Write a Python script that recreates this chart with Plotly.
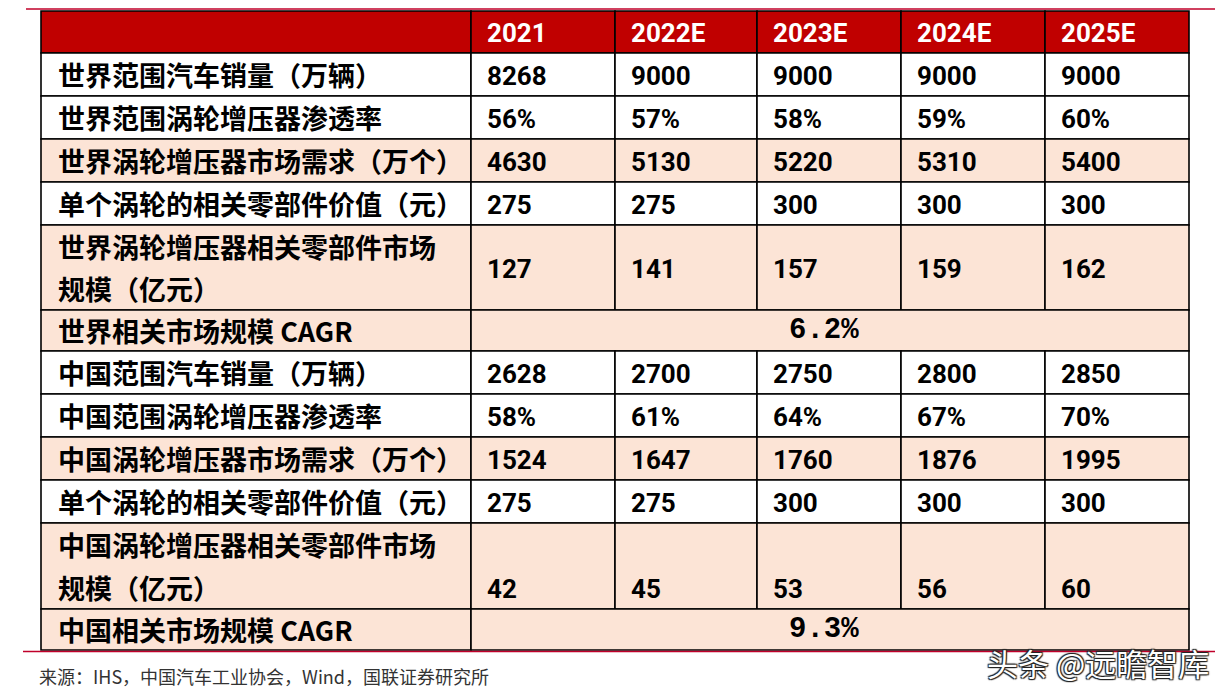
import plotly.graph_objects as go

years = ["2021", "2022E", "2023E", "2024E", "2025E"]

row_labels = [
    "世界范围汽车销量（万辆）",
    "世界范围涡轮增压器渗透率",
    "世界涡轮增压器市场需求（万个）",
    "单个涡轮的相关零部件价值（元）",
    "世界涡轮增压器相关零部件市场\n规模（亿元）",
    "世界相关市场规模 CAGR",
    "中国范围汽车销量（万辆）",
    "中国范围涡轮增压器渗透率",
    "中国涡轮增压器市场需求（万个）",
    "单个涡轮的相关零部件价值（元）",
    "中国涡轮增压器相关零部件市场\n规模（亿元）",
    "中国相关市场规模 CAGR",
]

world_sales = [8268, 9000, 9000, 9000, 9000]
world_penetration = ["56%", "57%", "58%", "59%", "60%"]
world_demand = [4630, 5130, 5220, 5310, 5400]
world_part_value = [275, 275, 300, 300, 300]
world_market = [127, 141, 157, 159, 162]
world_cagr = "6.2%"

china_sales = [2628, 2700, 2750, 2800, 2850]
china_penetration = ["58%", "61%", "64%", "67%", "70%"]
china_demand = [1524, 1647, 1760, 1876, 1995]
china_part_value = [275, 275, 300, 300, 300]
china_market = [42, 45, 53, 56, 60]
china_cagr = "9.3%"

source = "来源：IHS，中国汽车工业协会，Wind，国联证券研究所"
watermark = "头条 @远瞻智库"

row_values = [world_sales, world_penetration, world_demand, world_part_value,
              world_market, world_cagr,
              china_sales, china_penetration, china_demand, china_part_value,
              china_market, china_cagr]

# layout / style (screen pixels)
col_edges = [41, 471, 615, 757, 901, 1045, 1189]
top = 11
header_h = 42
row_heights = [43, 43, 43, 43, 85, 41, 43, 43, 43, 43, 86, 41]
shaded = [False, False, True, False, True, True, False, False, True, False, True, True]
value_valign = ["middle"] * 10 + ["bottom", "middle"]

RED = "#C00000"
PEACH = "#FCE4D6"
CJK = "Noto Sans CJK SC"
NUM = "Liberation Sans Narrow, Roboto, sans-serif"
OFF = 8  # page body margin

shapes = []
annotations = []

def cell(x0, x1, y0, y1, fill):
    shapes.append(dict(type="rect", xref="x", yref="y", x0=x0, x1=x1, y0=y0, y1=y1,
                       fillcolor=fill, line=dict(color="black", width=1.6)))

# header
y0, y1 = top, top + header_h
cell(col_edges[0], col_edges[1], y0, y1, RED)
for j, yr in enumerate(years):
    cell(col_edges[j + 1], col_edges[j + 2], y0, y1, RED)
    annotations.append(dict(x=col_edges[j + 1] + 14, y=(y0 + y1) / 2 + 1, text=yr,
                            xanchor="left", yanchor="middle", showarrow=False,
                            font=dict(family=NUM, size=26, color="white", weight="bold")))

# body
y = top + header_h
for i, lab in enumerate(row_labels):
    h = row_heights[i]
    ya, yb = y, y + h
    fill = PEACH if shaded[i] else "white"
    cell(col_edges[0], col_edges[1], ya, yb, fill)
    lines = lab.split("\n")
    lh = h / len(lines)
    for k, ln in enumerate(lines):
        annotations.append(dict(x=col_edges[0] + 15, y=ya + lh * (k + 0.5), text=ln,
                                xanchor="left", yanchor="middle", showarrow=False,
                                font=dict(family=CJK, size=27, color="black", weight="bold")))
    vals = row_values[i]
    if isinstance(vals, str):
        cell(col_edges[1], col_edges[-1], ya, yb, fill)
        annotations.append(dict(x=(col_edges[1] + col_edges[-1]) / 2 - 6, y=(ya + yb) / 2,
                                text=vals, xanchor="center", yanchor="middle", showarrow=False,
                                font=dict(family="Liberation Mono, monospace", size=29,
                                          color="black", weight="bold")))
    else:
        vy = (ya + yb) / 2 if value_valign[i] == "middle" else yb - h / 4
        for j, v in enumerate(vals):
            cell(col_edges[j + 1], col_edges[j + 2], ya, yb, fill)
            annotations.append(dict(x=col_edges[j + 1] + 14, y=vy + 1, text=str(v),
                                    xanchor="left", yanchor="middle", showarrow=False,
                                    font=dict(family=NUM, size=26, color="black", weight="bold")))
    y = yb

bottom = y
# thin red rules above and below the table
shapes.append(dict(type="line", xref="x", yref="y", x0=26, x1=1216, y0=top - 2, y1=top - 2,
                   line=dict(color="#C0002A", width=1.6)))
shapes.append(dict(type="line", xref="x", yref="y", x0=23, x1=1215, y0=bottom + 1.5, y1=bottom + 1.5,
                   line=dict(color="#C0002A", width=1.6)))

annotations.append(dict(x=37, y=676, text=source, xanchor="left", yanchor="middle",
                        showarrow=False, font=dict(family=CJK, size=18, color="#333333")))
annotations.append(dict(x=1211, y=662, text=watermark, xanchor="right", yanchor="middle",
                        showarrow=False,
                        font=dict(family=CJK, size=31, color="white",
                                  shadow="1px 1px 1px #222, -1px -1px 1px #222, 1px -1px 1px #222, -1px 1px 1px #222")))

fig = go.Figure()
fig.update_layout(
    width=1223, height=699,
    margin=dict(l=0, r=0, t=0, b=0),
    paper_bgcolor="white", plot_bgcolor="white",
    xaxis=dict(range=[OFF, 1223 + OFF], visible=False, fixedrange=True),
    yaxis=dict(range=[699 + OFF, OFF], visible=False, fixedrange=True),
    shapes=shapes, annotations=annotations,
    showlegend=False,
)
fig.write_html("out.html")
